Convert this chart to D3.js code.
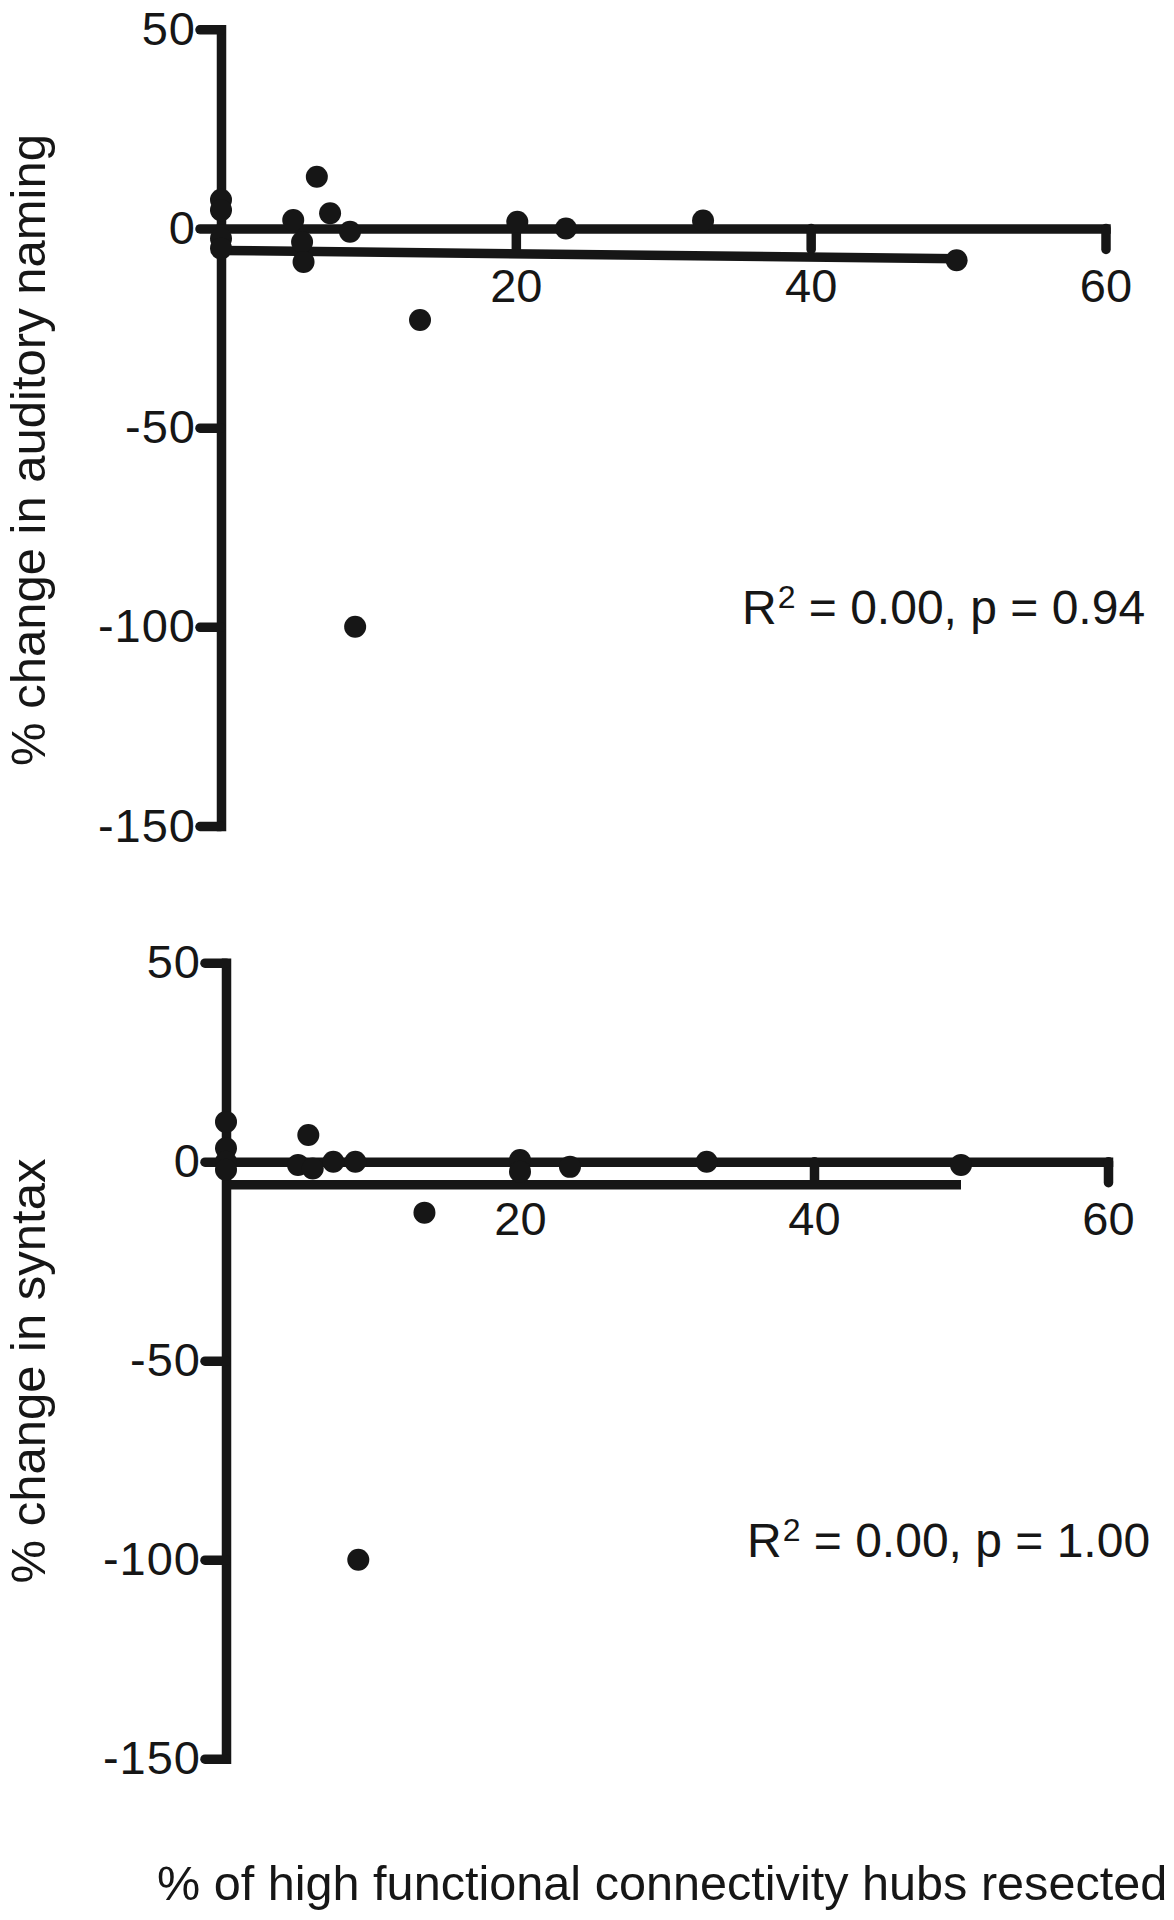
<!DOCTYPE html>
<html>
<head>
<meta charset="utf-8">
<script src="https://cdn.jsdelivr.net/npm/d3@7"></script>
<style>
  html, body { margin: 0; padding: 0; background: #fff; }
  svg { display: block; font-family: "Liberation Sans", Arial, Helvetica, sans-serif; }
</style>
</head>
<body>
<svg id="chart" width="1174" height="1920"></svg>
<script>
// ---- data ----
const xTicks = [20, 40, 60];
const yTicks = [50, 0, -50, -100, -150];

// Top panel: % change in auditory naming
const namingX = [0, 0, 0, 0, 4.9, 5.5, 5.6, 6.5, 7.4, 8.75, 9.1, 13.5, 20.1, 23.4, 32.7, 49.9];
const namingY = [7.2, 4.6, -2.5, -5.0, 2.1, -3.4, -8.4, 13, 3.8, -0.8, -100, -23, 1.7, 0, 2.0, -8];
const namingFitX = [0, 50];
const namingFitY = [-5.5, -7.6];

// Bottom panel: % change in syntax
const syntaxX = [0, 0, 0, 0, 4.9, 5.6, 5.9, 7.3, 8.8, 9.0, 13.5, 20, 20, 23.4, 32.7, 50];
const syntaxY = [10, 3.4, 0, -2, -0.8, 6.7, -1.7, 0, 0, -100, -12.8, 0.4, -2.5, -1.3, 0, -0.8];
const syntaxFitX = [0, 50];
const syntaxFitY = [-5.8, -5.8];

const ink = "#161616";
const svg = d3.select("#chart");

function panel(cfg) {
  const x = d3.scaleLinear().domain([0, 60]).range([cfg.x0, cfg.x1]);
  const y = d3.scaleLinear().domain([-150, 50]).range([cfg.yBottom, cfg.yTop]);
  const g = svg.append("g");
  const fmt = d => String(d);

  // y axis
  const ya = g.append("g")
    .attr("transform", `translate(${cfg.x0},0)`)
    .call(d3.axisLeft(y).tickValues(yTicks).tickFormat(fmt).tickSize(21).tickSizeOuter(0).tickPadding(4));
  // x axis
  const xa = g.append("g")
    .attr("transform", `translate(0,${y(0)})`)
    .call(d3.axisBottom(x).tickValues(xTicks).tickFormat(fmt).tickSize(21).tickSizeOuter(0).tickPadding(19));

  [ya, xa].forEach(a => {
    a.select(".domain").attr("stroke", ink).attr("stroke-width", 9.5).attr("stroke-linecap", "square");
    a.selectAll(".tick line").attr("stroke", ink).attr("stroke-width", 9.5).attr("stroke-linecap", "round");
    a.selectAll(".tick text").attr("fill", ink).style("font-size", "47px")
      .style("font-family", '"Liberation Sans", Arial, sans-serif');
  });
  ya.selectAll(".tick text").style("letter-spacing", "1px");

  // regression line
  const fit = cfg.fitX.map((v, i) => [v, cfg.fitY[i]]);
  g.append("path")
    .attr("d", d3.line().x(d => x(d[0])).y(d => y(d[1]))(fit))
    .attr("fill", "none").attr("stroke", ink).attr("stroke-width", 9.5);

  // points
  g.selectAll("circle.pt").data(cfg.xs.map((v, i) => [v, cfg.ys[i]]))
    .join("circle").attr("class", "pt")
    .attr("cx", d => x(d[0])).attr("cy", d => y(d[1])).attr("r", 11).attr("fill", ink);

  // y label
  g.append("text")
    .attr("transform", `translate(${cfg.labelX},${cfg.labelY}) rotate(-90)`)
    .attr("text-anchor", "middle").attr("fill", ink)
    .style("font-size", "49px").text(cfg.label);

  // annotation
  const t = g.append("text").attr("x", cfg.annX).attr("y", cfg.annY).attr("fill", ink).style("font-size", "48px");
  t.append("tspan").text("R");
  t.append("tspan").attr("dy", -16).attr("dx", 1).style("font-size", "32px").text("2");
  t.append("tspan").attr("dy", 16).text(" = 0.00, p = " + cfg.p);
}

panel({
  x0: 221, x1: 1105.5, yTop: 29.3, yBottom: 826,
  xs: namingX, ys: namingY, fitX: namingFitX, fitY: namingFitY,
  label: "% change in auditory naming", labelX: 45, labelY: 450,
  annX: 742, annY: 624, p: "0.94"
});
panel({
  x0: 226, x1: 1108, yTop: 962.7, yBottom: 1758.7,
  xs: syntaxX, ys: syntaxY, fitX: syntaxFitX, fitY: syntaxFitY,
  label: "% change in syntax", labelX: 45, labelY: 1371,
  annX: 747, annY: 1557, p: "1.00"
});

svg.append("text").attr("x", 157).attr("y", 1900).attr("fill", ink)
  .style("font-size", "48.6px").text("% of high functional connectivity hubs resected");
</script>
</body>
</html>
